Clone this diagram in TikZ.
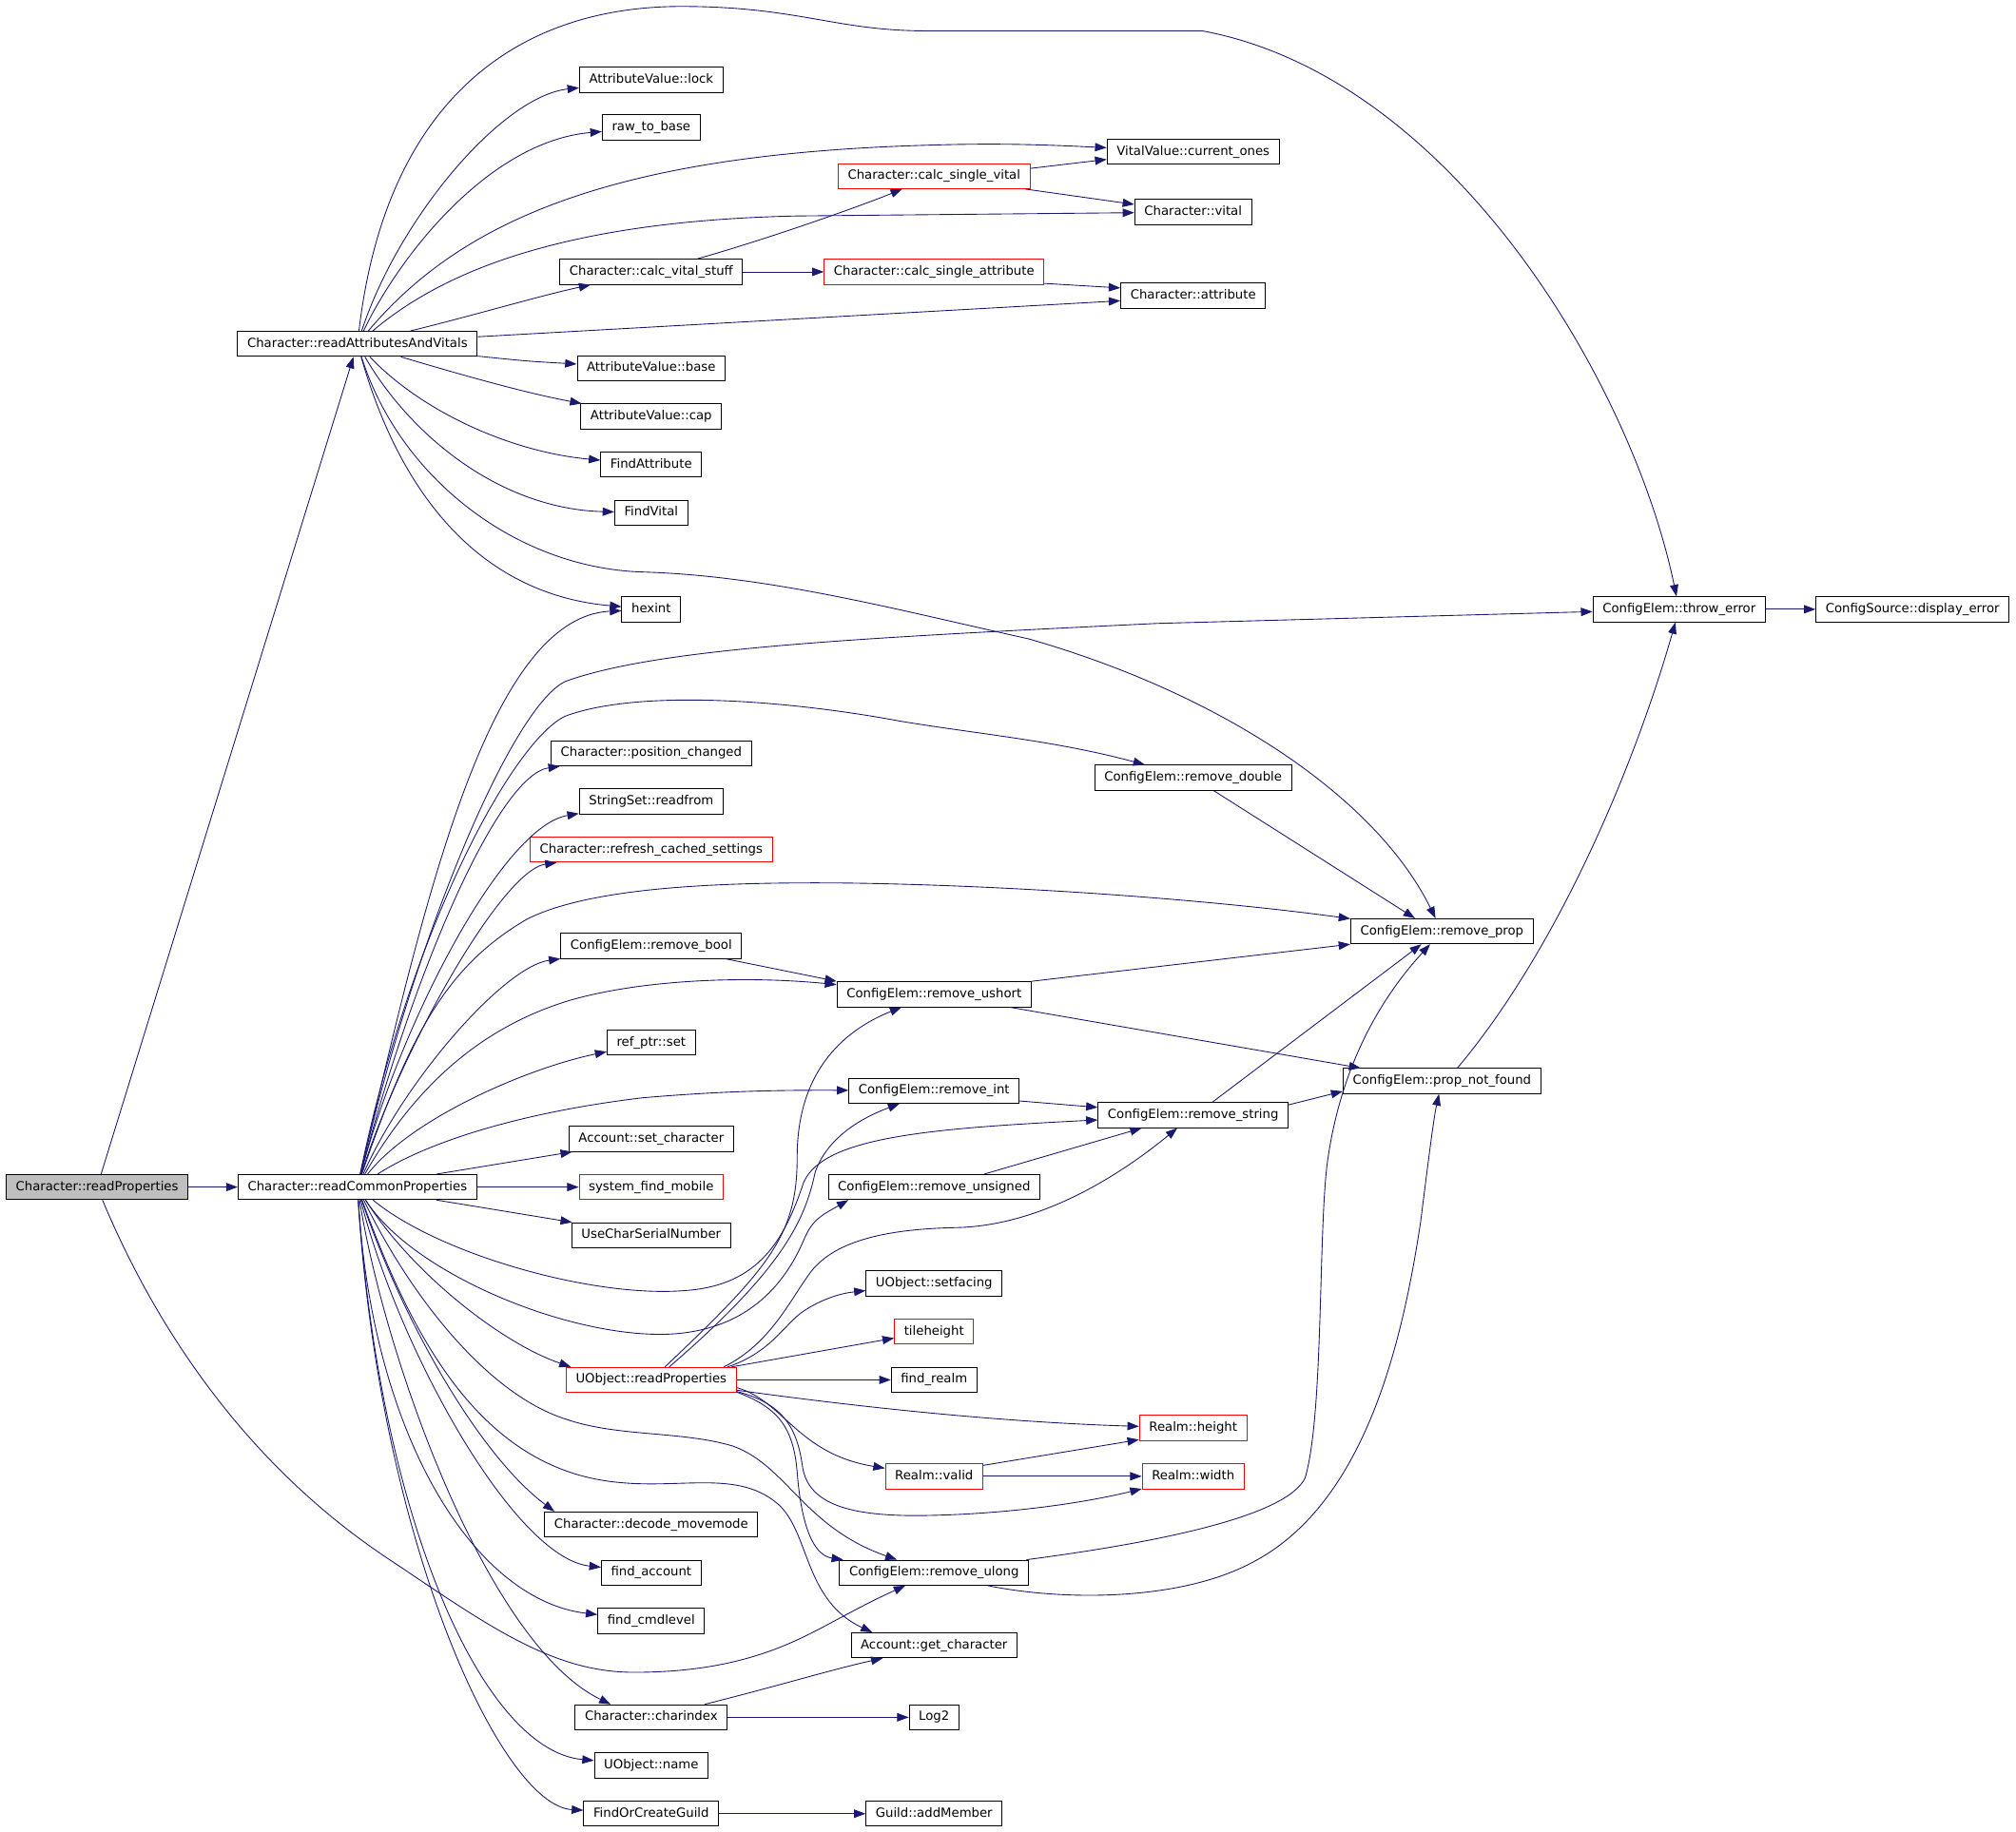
\documentclass[tikz,border=0pt]{standalone}
\usepackage{fontspec}
\setmainfont{DejaVu Sans}
\usetikzlibrary{arrows.meta}
\definecolor{edgec}{RGB}{25,25,112}
\definecolor{redb}{RGB}{255,0,0}
\definecolor{grayf}{RGB}{191,191,191}
\begin{document}
\begin{tikzpicture}[x=1pt,y=1pt,
  nbox/.style={draw=black, line width=0.7pt, fill=white, minimum height=19.5pt, inner xsep=7.5pt, inner ysep=0pt, text height=7.4pt, text depth=2.2pt, font=\fontsize{9.8}{12}\selectfont},
  nred/.style={nbox, draw=redb},
  ngray/.style={nbox, fill=grayf},
  edg/.style={draw=edgec, line width=0.65pt, -{Triangle[length=9pt,width=6.5pt]}}]
\fill[white] (0,0) rectangle (1568,-1425);
\useasboundingbox (0,0) rectangle (1568,-1425);
% nodes
\node[ngray] (rp) at (75.5,-923.5) {Character::readProperties};
\node[nbox] (rcp) at (278,-923.5) {Character::readCommonProperties};
\node[nbox] (rav) at (278,-267.5) {Character::readAttributesAndVitals};
\node[nbox] (lock) at (506.5,-62) {AttributeValue::lock};
\node[nbox] (raw) at (506.5,-99) {raw\_to\_base};
\node[nbox] (cur) at (928,-118) {VitalValue::current\_ones};
\node[nred] (csv) at (726.5,-137) {Character::calc\_single\_vital};
\node[nbox] (vital) at (928,-165) {Character::vital};
\node[nbox] (cvs) at (506.5,-211.5) {Character::calc\_vital\_stuff};
\node[nred] (csa) at (726.5,-211.5) {Character::calc\_single\_attribute};
\node[nbox] (attr) at (928,-230) {Character::attribute};
\node[nbox] (base) at (506.5,-286.5) {AttributeValue::base};
\node[nbox] (cap) at (506.5,-324) {AttributeValue::cap};
\node[nbox] (fattr) at (506.5,-361.5) {FindAttribute};
\node[nbox] (fvital) at (506.5,-399) {FindVital};
\node[nbox] (hexint) at (506.5,-474) {hexint};
\node[nbox] (throw) at (1306,-474) {ConfigElem::throw\_error};
\node[nbox] (disp) at (1487.5,-474) {ConfigSource::display\_error};
\node[nbox] (pos) at (506.5,-586) {Character::position\_changed};
\node[nbox] (rdouble) at (928,-605) {ConfigElem::remove\_double};
\node[nbox] (readfrom) at (506.5,-623.5) {StringSet::readfrom};
\node[nred] (refresh) at (506.5,-661) {Character::refresh\_cached\_settings};
\node[nbox] (rprop) at (1121.5,-724.5) {ConfigElem::remove\_prop};
\node[nbox] (rbool) at (506.5,-736) {ConfigElem::remove\_bool};
\node[nbox] (rushort) at (726.5,-773.5) {ConfigElem::remove\_ushort};
\node[nbox] (refset) at (506.5,-811) {ref\_ptr::set};
\node[nbox] (pnf) at (1121.5,-841) {ConfigElem::prop\_not\_found};
\node[nbox] (rint) at (726.5,-848.5) {ConfigElem::remove\_int};
\node[nbox] (rstring) at (928,-867.5) {ConfigElem::remove\_string};
\node[nbox] (setchar) at (506.5,-886) {Account::set\_character};
\node[nred] (sfm) at (506.5,-923.5) {system\_find\_mobile};
\node[nbox] (runsigned) at (726.5,-923.5) {ConfigElem::remove\_unsigned};
\node[nbox] (ucsn) at (506.5,-961) {UseCharSerialNumber};
\node[nbox] (setfacing) at (726.5,-998.5) {UObject::setfacing};
\node[nred] (tileh) at (726.5,-1036) {tileheight};
\node[nred] (uor) at (506.5,-1073.5) {UObject::readProperties};
\node[nbox] (frealm) at (726.5,-1073.5) {find\_realm};
\node[nred] (rheight) at (928,-1111) {Realm::height};
\node[nred] (rvalid) at (726.5,-1148.5) {Realm::valid};
\node[nred] (rwidth) at (928,-1148.5) {Realm::width};
\node[nbox] (decode) at (506.5,-1186) {Character::decode\_movemode};
\node[nbox] (rulong) at (726.5,-1223.5) {ConfigElem::remove\_ulong};
\node[nbox] (facc) at (506.5,-1223.5) {find\_account};
\node[nbox] (fcmd) at (506.5,-1261) {find\_cmdlevel};
\node[nbox] (getchar) at (726.5,-1280) {Account::get\_character};
\node[nbox] (charidx) at (506.5,-1336) {Character::charindex};
\node[nbox] (log2) at (726.5,-1336) {Log2};
\node[nbox] (uname) at (506.5,-1373.5) {UObject::name};
\node[nbox] (focg) at (506.5,-1411) {FindOrCreateGuild};
\node[nbox] (addm) at (726.5,-1411) {Guild::addMember};
% edges from readProperties
\draw[edg] (rp) -- (rav);
\draw[edg] (rp) -- (rcp);
\draw[edg] (rp) .. controls (120,-1030) and (190,-1140) .. (307,-1216) .. controls (380,-1265) and (430,-1301) .. (493,-1301) .. controls (560,-1301) and (600,-1286) .. (630,-1271) .. controls (650,-1261) and (670,-1249) .. (rulong);
% edges from readAttributesAndVitals
\draw[edg] (rav) .. controls (300,-80) and (400,-5) .. (530,-5) .. controls (620,-5) and (650,-24) .. (720,-24) -- (935,-24) .. controls (1130,-60) and (1270,-300) .. (throw);
\draw[edg] (rav) .. controls (310,-170) and (390,-75) .. (lock);
\draw[edg] (rav) .. controls (310,-200) and (380,-110) .. (raw);
\draw[edg] (rav) .. controls (360,-170) and (480,-120) .. (720,-113) .. controls (780,-111) and (820,-113) .. (cur);
\draw[edg] (rav) .. controls (340,-215) and (430,-172) .. (620,-168) -- (vital);
\draw[edg] (rav) .. controls (370,-245) and (420,-230) .. (cvs);
\draw[edg] ([yshift=5.5pt]rav.east) -- ([yshift=-4pt]attr.west);
\draw[edg] (rav) .. controls (410,-281) .. (base);
\draw[edg] (rav) .. controls (360,-292) and (410,-306) .. (cap);
\draw[edg] (rav) .. controls (330,-322) and (400,-352) .. (fattr);
\draw[edg] (rav) .. controls (320,-340) and (390,-396) .. (fvital);
\draw[edg] (rav) .. controls (310,-380) and (370,-462) .. (hexint);
\draw[edg] (rav) .. controls (310,-370) and (400,-442) .. (500,-445) .. controls (600,-448) and (700,-475) .. (800,-497) .. controls (950,-540) and (1070,-620) .. (rprop);
% vitals
\draw[edg] (cvs) .. controls (600,-185) and (670,-160) .. (csv);
\draw[edg] (cvs) -- (csa);
\draw[edg] ([yshift=6pt]csv.east) -- ([yshift=-6pt]cur.west);
\draw[edg] ([xshift=-4pt]csv.south east) -- ([yshift=6pt]vital.west);
\draw[edg] ([yshift=-9pt]csa.east) -- ([yshift=6pt]attr.west);
\draw[edg] (throw) -- (disp);
% edges from readCommonProperties (upwards)
\draw[edg] (rcp) .. controls (330,-700) and (380,-480) .. (hexint);
\draw[edg] (rcp) .. controls (325,-720) and (400,-548) .. (440,-530) .. controls (510,-505) and (650,-497) .. (900,-485) -- (throw);
\draw[edg] (rcp) .. controls (320,-720) and (400,-575) .. (440,-557) .. controls (500,-535) and (620,-546) .. (700,-561) .. controls (760,-571) and (820,-576) .. (rdouble);
\draw[edg] (rcp) .. controls (320,-760) and (387,-603) .. (pos);
\draw[edg] (rcp) .. controls (310,-800) and (390,-643) .. (readfrom);
\draw[edg] (rcp) .. controls (310,-820) and (390,-677) .. (refresh);
\draw[edg] (rcp) .. controls (320,-800) and (350,-750) .. (410,-715) .. controls (460,-690) and (560,-686) .. (660,-687) .. controls (800,-689) and (950,-701) .. (rprop);
\draw[edg] (rcp) .. controls (315,-840) and (392,-752) .. (rbool);
\draw[edg] (rcp) .. controls (320,-850) and (370,-800) .. (444,-778) .. controls (500,-762) and (580,-759) .. (rushort);
\draw[edg] (rcp) .. controls (320,-870) and (410,-831) .. (refset);
\draw[edg] (rcp) .. controls (330,-890) and (400,-866) .. (500,-854) .. controls (560,-849) and (600,-848) .. (rint);
\draw[edg] (rcp) -- (setchar);
\draw[edg] (rcp) -- (sfm);
\draw[edg] (rcp) -- (ucsn);
% edges from readCommonProperties (downwards)
\draw[edg] (rcp) .. controls (340,-975) and (460,-1010) .. (533,-1004) .. controls (590,-1000) and (610,-965) .. (625,-920) .. controls (640,-885) and (720,-878) .. (rstring);
\draw[edg] (rcp) .. controls (320,-990) and (440,-1040) .. (518,-1038) .. controls (580,-1036) and (610,-1000) .. (625,-965) .. controls (632,-948) and (640,-945) .. ([xshift=16pt]runsigned.south west);
\draw[edg] (rcp) .. controls (320,-990) and (390,-1045) .. ([xshift=4pt]uor.north west);
\draw[edg] (rcp) .. controls (320,-1010) and (380,-1085) .. (440,-1104) .. controls (480,-1118) and (530,-1113) .. (570,-1125) .. controls (612,-1140) and (625,-1188) .. (rulong);
\draw[edg] (rcp) .. controls (320,-1040) and (370,-1130) .. (460,-1150) .. controls (520,-1163) and (570,-1140) .. (605,-1170) .. controls (630,-1192) and (625,-1245) .. ([xshift=-48pt]getchar.north);
\draw[edg] (rcp) .. controls (310,-1020) and (370,-1130) .. ([xshift=8pt]decode.north west);
\draw[edg] (rcp) .. controls (310,-1050) and (400,-1212) .. (facc);
\draw[edg] (rcp) .. controls (290,-1120) and (370,-1245) .. (fcmd);
\draw[edg] (rcp) .. controls (300,-1060) and (380,-1280) .. ([xshift=28pt]charidx.north west);
\draw[edg] (rcp) .. controls (295,-1180) and (375,-1362) .. (uname);
\draw[edg] (rcp) .. controls (295,-1200) and (390,-1405) .. (focg);
% edges from UObject::readProperties
\draw[edg] (uor) .. controls (600,-985) and (620,-960) .. (620,-900) .. controls (620,-830) and (660,-800) .. (rushort);
\draw[edg] ([xshift=14pt]uor.north) .. controls (608,-988) and (626,-950) .. (634,-912) .. controls (645,-880) and (680,-866) .. (rint);
\draw[edg] ([xshift=-10pt]uor.north east) .. controls (600,-1045) and (615,-1010) .. (631,-989) .. controls (650,-965) and (690,-956) .. (745,-955) .. controls (810,-953) and (870,-915) .. (rstring);
\draw[edg] ([xshift=-7pt]uor.north east) .. controls (600,-1052) and (610,-1030) .. (625,-1020) .. controls (640,-1010) and (655,-1006) .. (setfacing);
\draw[edg] ([xshift=-4pt]uor.north east) -- ([yshift=-5pt]tileh.west);
\draw[edg] (uor) -- (frealm);
\draw[edg] ([yshift=-8pt]uor.east) .. controls (700,-1099) and (800,-1107) .. (rheight);
\draw[edg] ([yshift=-6pt]uor.east) .. controls (610,-1090) and (620,-1131) .. (rvalid);
\draw[edg] ([yshift=-9pt]uor.east) .. controls (610,-1092) and (620,-1112) .. (624,-1140) .. controls (628,-1170) and (660,-1180) .. (720,-1179) .. controls (780,-1178) and (840,-1170) .. (rwidth);
\draw[edg] ([yshift=-9.5pt]uor.east) .. controls (605,-1095) and (617,-1110) .. (620,-1145) .. controls (623,-1185) and (632,-1210) .. (rulong);
% other edges
\draw[edg] ([yshift=8.5pt]rvalid.east) -- ([yshift=-9pt]rheight.west);
\draw[edg] (rvalid) -- (rwidth);
\draw[edg] ([xshift=-18pt]charidx.north east) .. controls (600,-1313) and (650,-1298) .. ([xshift=-40pt]getchar.south);
\draw[edg] (charidx) -- (log2);
\draw[edg] (focg) -- (addm);
\draw[edg] (rushort.north east) -- (rprop.south west);
\draw[edg] ([xshift=-12pt]rbool.south east) -- (rushort.north west);
\draw[edg] ([xshift=-17pt]rushort.south east) -- ([xshift=14pt]pnf.north west);
\draw[edg] ([yshift=-8pt]rint.east) -- ([yshift=6pt]rstring.west);
\draw[edg] ([xshift=39pt]runsigned.north) -- ([xshift=-40pt]rstring.south);
\draw[edg] ([xshift=15pt]rstring.north) -- ([xshift=-16pt]rprop.south);
\draw[edg] ([xshift=16pt]rdouble.south) -- ([xshift=-21pt]rprop.north);
\draw[edg] ([yshift=8pt]rstring.east) -- ([yshift=-8pt]pnf.west);
\draw[edg] ([xshift=-2pt]rulong.north east) .. controls (900,-1200) and (1000,-1180) .. (1015,-1150) .. controls (1030,-1100) and (1025,-950) .. (1033,-900) .. controls (1045,-820) and (1080,-770) .. (rprop);
\draw[edg] ([xshift=-32pt]rulong.south east) .. controls (830,-1246) and (920,-1245) .. (975,-1215) .. controls (1060,-1170) and (1090,-1050) .. (1105,-950) .. controls (1110,-910) and (1115,-870) .. (pnf);
\draw[edg] ([xshift=12pt]pnf.north) .. controls (1210,-740) and (1270,-600) .. (throw);
\end{tikzpicture}
\end{document}
